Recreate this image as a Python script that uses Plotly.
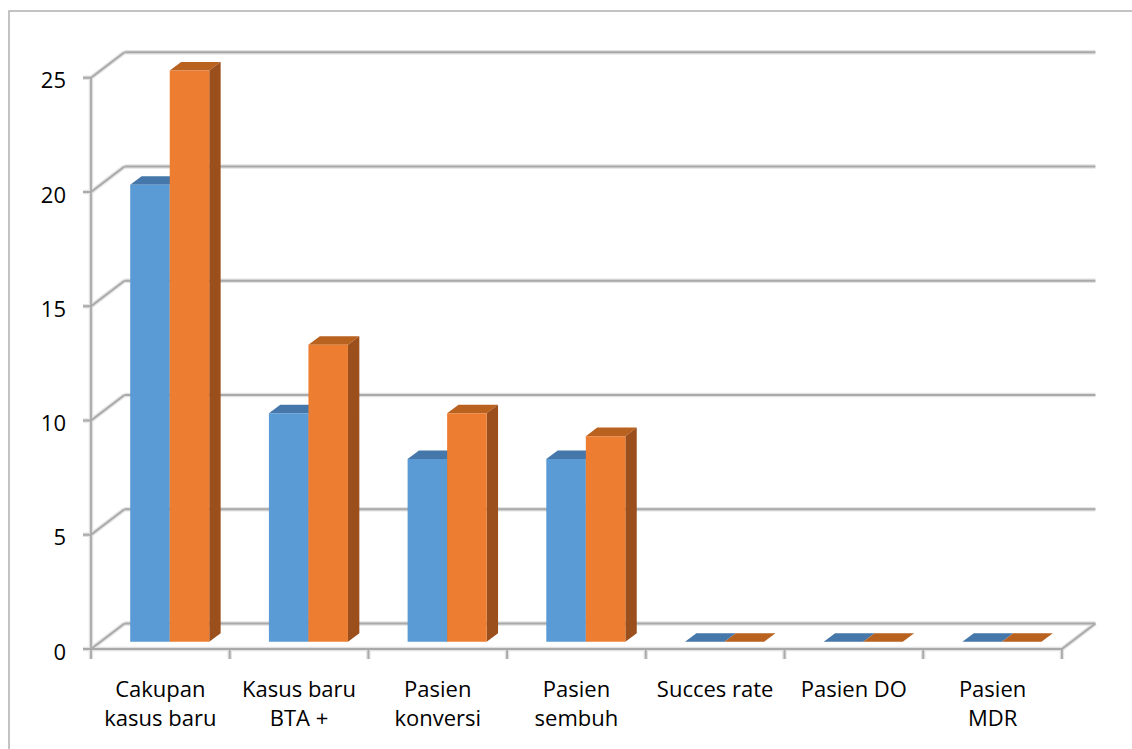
import plotly.graph_objects as go

# ---- data -------------------------------------------------------------
categories = ["Cakupan<br>kasus baru", "Kasus baru<br>BTA +", "Pasien<br>konversi",
              "Pasien<br>sembuh", "Succes rate", "Pasien DO", "Pasien<br>MDR"]
series_a = [20, 10, 8, 8, 0, 0, 0]
series_b = [25, 13, 10, 9, 0, 0, 0]
y_ticks = [0, 5, 10, 15, 20, 25]

# ---- 3D projection settings (oblique view) ---------------------------
CAT_PX = 138.7          # pixels per category slot
UNIT_PX = 22.85         # pixels per value unit
DX = 33.5 / CAT_PX      # depth offset along x (data units)
DY = 25.5 / UNIT_PX     # depth offset along y (data units)
F_FRONT, F_BACK = 0.28, 0.62   # bar depth span as fraction of wall depth
BAR_W = 0.285           # bar width in category units
N = len(categories)
Y_MAX = y_ticks[-1]

L, B, W, H = 83, 90, 1132, 749
x_lo = -8 / CAT_PX
x_hi = x_lo + (W - L) / CAT_PX
y_lo = -10 / UNIT_PX
y_hi = y_lo + (H - B) / UNIT_PX

GRID = "#A9A9A9"
GRID_SOFT = "#E2E2E2"
FONT = dict(family="Open Sans", size=22, color="#000000")

fig = go.Figure()


def add_lines(segments, color, width):
    xs, ys = [], []
    for seg in segments:
        for px, py in seg:
            xs.append(px)
            ys.append(py)
        xs.append(None)
        ys.append(None)
    fig.add_trace(go.Scatter(x=xs, y=ys, mode="lines", hoverinfo="skip",
                             line=dict(color=color, width=width), showlegend=False))


# walls: back gridlines, left-wall diagonals with tick stubs, front axis
wall = []
for v in y_ticks:
    wall.append([(DX, v + DY), (N + DX, v + DY)])
    wall.append([(x_lo, v), (0, v), (DX, v + DY)])
wall.append([(0, 0), (0, Y_MAX)])
# floor outline and category tick stubs
wall.append([(0, 0), (N, 0), (N + DX, DY)])
for i in range(N + 1):
    wall.append([(i, y_lo), (i, 0)])

add_lines(wall, GRID_SOFT, 4.5)
add_lines(wall, GRID, 1.8)


# ---- bars -------------------------------------------------------------
def faces(values, offset):
    fronts, tops, sides = [], [], []
    for i, v in enumerate(values):
        x0 = i + 0.5 + offset
        x1 = x0 + BAR_W
        fx, fy = F_FRONT * DX, F_FRONT * DY
        bx, by = F_BACK * DX, F_BACK * DY
        fronts.append([(x0 + fx, fy), (x1 + fx, fy), (x1 + fx, v + fy), (x0 + fx, v + fy)])
        tops.append([(x0 + fx, v + fy), (x1 + fx, v + fy), (x1 + bx, v + by), (x0 + bx, v + by)])
        sides.append([(x1 + fx, fy), (x1 + bx, by), (x1 + bx, v + by), (x1 + fx, v + fy)])
    return fronts, tops, sides


def add_polys(polys, color):
    xs, ys = [], []
    for poly in polys:
        for px, py in poly + [poly[0]]:
            xs.append(px)
            ys.append(py)
        xs.append(None)
        ys.append(None)
    fig.add_trace(go.Scatter(x=xs, y=ys, mode="lines", fill="toself", fillcolor=color,
                             line=dict(width=0, color=color), hoverinfo="skip",
                             showlegend=False))


for values, offset, (c_front, c_top, c_side) in [
    (series_a, -BAR_W, ("#5B9BD5", "#4677AB", "#3E6A98")),
    (series_b, 0.0, ("#ED7D31", "#B9611F", "#9B4F1D")),
]:
    fr, tp, sd = faces(values, offset)
    add_polys(tp, c_top)
    add_polys(sd, c_side)
    add_polys(fr, c_front)

fig.update_layout(
    width=W, height=H,
    margin=dict(l=L, r=0, t=0, b=B, pad=0),
    paper_bgcolor="white", plot_bgcolor="white",
    font=FONT,
    showlegend=False,
    xaxis=dict(range=[x_lo, x_hi], showgrid=False, zeroline=False, showline=False,
               tickmode="array", tickvals=[i + 0.5 for i in range(N)], ticktext=categories,
               ticks="", ticklabelstandoff=15, tickfont=FONT, fixedrange=True),
    yaxis=dict(range=[y_lo, y_hi], showgrid=False, zeroline=False, showline=False,
               tickmode="array", tickvals=y_ticks, ticktext=[str(t) for t in y_ticks],
               ticks="", ticklabelstandoff=16, ticklabelshift=3, tickfont=FONT,
               fixedrange=True),
    shapes=[dict(type="rect", xref="paper", yref="paper",
                 x0=(9 - L) / (W - L), x1=2, y0=-1, y1=(H - B - 11) / (H - B),
                 line=dict(color="#B0B0B0", width=1.5), fillcolor="rgba(0,0,0,0)",
                 layer="below")],
)

fig.write_html("out.html")
